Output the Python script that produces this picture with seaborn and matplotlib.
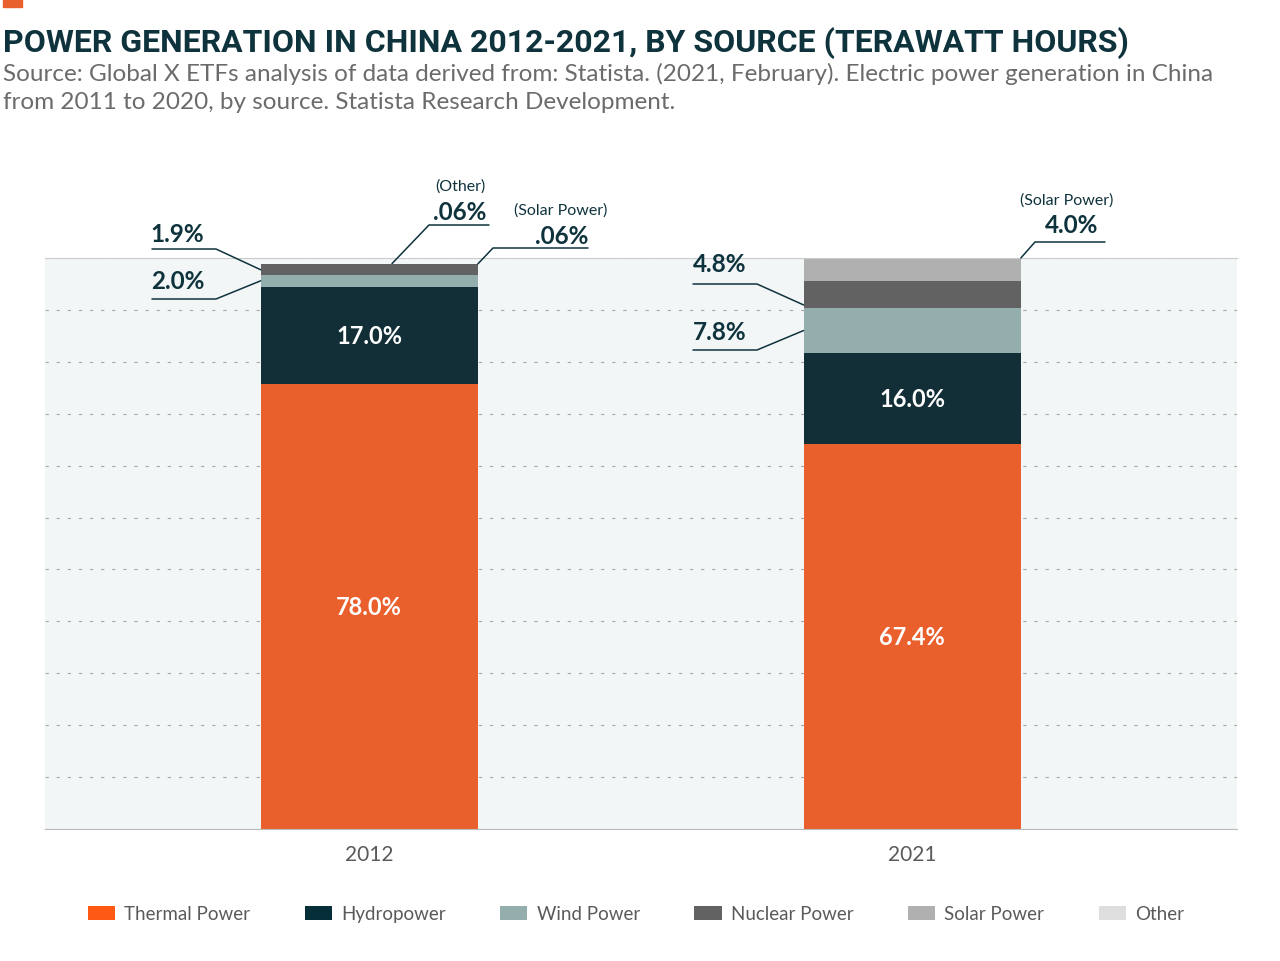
import matplotlib.pyplot as plt
import matplotlib.lines as mlines
import matplotlib.patches as mpatches
import numpy as np
import seaborn as sns

### data (share of generation, %) ###
years = ["2012", "2021"]
sources = ["Thermal Power", "Hydropower", "Wind Power", "Nuclear Power", "Solar Power", "Other"]
thermal = [78.0, 67.4]
hydro = [17.0, 16.0]
wind = [2.0, 7.8]
nuclear = [1.9, 4.8]
solar = [0.06, 4.0]
other = [0.06, 0.0]

bar_colors = ["#EA602C", "#122E36", "#93AEAD", "#626262", "#B0B0B0", "#DEDEDE"]
legend_colors = ["#FF5A14", "#062E38", "#93AEAD", "#626262", "#B0B0B0", "#DEDEDE"]

TEAL = "#0F333D"
GREY = "#5A5A5A"

sns.set_style("white")
plt.rcParams["font.family"] = ["Lato", "DejaVu Sans"]

W, H = 1280, 962
fig = plt.figure(figsize=(W / 100, H / 100), dpi=100)

def px(x, y):
    # pixel (from top-left) -> figure fraction
    return x / W, 1 - y / H

ax = fig.add_axes([45 / W, 1 - 830 / H, (1237 - 45) / W, (830 - 259) / H])
ax.set_facecolor("#F2F6F7")

series = [thermal, hydro, wind, nuclear, solar, other]
bottom = np.zeros(len(years))
bottoms = []
for vals, col in zip(series, bar_colors):
    bottoms.append(bottom.copy())
    sns.barplot(x=years, y=vals, bottom=bottom, color=col, width=0.4,
                saturation=1, errorbar=None, linewidth=0, ax=ax)
    bottom = bottom + np.array(vals)

ax.set_xlim(-0.597, 1.598)
ax.set_ylim(0, 100)
ax.set_yticks(np.linspace(0, 100, 12))
ax.set_yticklabels([])
ax.set_axisbelow(True)
ax.yaxis.grid(True, color="#A8A8A8", linestyle=(0, (3, 7)), linewidth=0.8)
ax.xaxis.grid(False)
ax.tick_params(axis="y", length=6, width=0.8, color="#BBBBBB", direction="out")
ax.tick_params(axis="x", length=0, pad=11, labelsize=15, labelcolor=GREY)
ax.set_xlabel("")
ax.set_ylabel("")
for s in ["left", "right"]:
    ax.spines[s].set_visible(False)
ax.spines["bottom"].set_color("#BBBBBB")
ax.spines["top"].set_color("#CCCCCC")
ax.spines["top"].set_visible(True)

# labels inside the big segments
for i in range(len(years)):
    for k in [0, 1]:
        ax.text(i, bottoms[k][i] + series[k][i] / 2, f"{series[k][i]:.1f}%",
                ha="center", va="center", color="white", fontsize=17, fontweight="bold")

# callouts for the thin segments
def to_px(xd, yd):
    xd, yd = ax.transData.transform((xd, yd))
    return xd, H - yd

def leader(x0, x1, y, target):
    tx, ty = target
    xs, ys = zip(*[px(x0, y), px(x1, y), px(tx, ty)])
    fig.add_artist(mlines.Line2D(xs, ys, color=TEAL, linewidth=1.1))

def leader_left(x0, x1, y, target):
    tx, ty = target
    xs, ys = zip(*[px(x1, y), px(x0, y), px(tx, ty)])
    fig.add_artist(mlines.Line2D(xs, ys, color=TEAL, linewidth=1.1))

big = dict(color=TEAL, fontsize=17.5, fontweight="bold", va="center")
small = dict(color=TEAL, fontsize=11.5, va="center", ha="center")
hw = 0.2

# 2012
fig.text(*px(150, 235), f"{nuclear[0]:.1f}%", ha="left", **big)
leader(152, 216, 250, to_px(0 - hw, bottoms[3][0] + nuclear[0] / 2))
fig.text(*px(151, 282), f"{wind[0]:.1f}%", ha="left", **big)
leader(152, 216, 300, to_px(0 - hw, bottoms[2][0] + wind[0] / 2))
fig.text(*px(460, 187), "(Other)", **small)
fig.text(*px(460, 212), f"{other[0]:.2f}%".lstrip("0"), ha="center", **big)
leader_left(429, 489, 226, to_px(0.042, bottoms[5][0] + other[0]))
fig.text(*px(561, 211), "(Solar Power)", **small)
fig.text(*px(588, 236), f"{solar[0]:.2f}%".lstrip("0"), ha="right", **big)
leader_left(493, 588, 249, to_px(0 + hw, bottoms[4][0] + solar[0]))

# 2021
fig.text(*px(1067, 201), "(Solar Power)", **small)
fig.text(*px(1072, 226), f"{solar[1]:.1f}%", ha="center", **big)
leader_left(1035, 1105, 243, to_px(1 + hw, bottoms[4][1] + solar[1]))
fig.text(*px(693, 265), f"{nuclear[1]:.1f}%", ha="left", **big)
leader(693, 757, 285, to_px(1 - hw, bottoms[3][1] + nuclear[1] * 0.12))
fig.text(*px(693, 333), f"{wind[1]:.1f}%", ha="left", **big)
leader(693, 757, 351, to_px(1 - hw, bottoms[2][1] + wind[1] / 2))

# title block
fig.add_artist(mpatches.Rectangle(px(3, 8), 19 / W, 8 / H, color="#EA602C"))
fig.text(*px(3, 52), "POWER GENERATION IN CHINA 2012-2021, BY SOURCE (TERAWATT HOURS)",
         fontsize=23, fontweight="bold", color=TEAL, va="baseline", ha="left",
         family=["Roboto", "DejaVu Sans"])
fig.text(*px(3, 81), "Source: Global X ETFs analysis of data derived from: Statista. (2021, February). "
         "Electric power generation in China", fontsize=17.5, color="#6B6B6B",
         va="baseline", ha="left")
fig.text(*px(3, 109), "from 2011 to 2020, by source. Statista Research Development.",
         fontsize=17.5, color="#6B6B6B", va="baseline", ha="left")

# legend
handles = [mpatches.Patch(facecolor=c, edgecolor="none", label=s)
           for s, c in zip(sources, legend_colors)]
fig.legend(handles=handles, loc="center", bbox_to_anchor=px(636, 915), ncol=6,
           frameon=False, fontsize=13.5, labelcolor=GREY, handlelength=1.45,
           handleheight=0.8, handletextpad=0.5, columnspacing=2.9)

fig.savefig("out.png", dpi=100)
